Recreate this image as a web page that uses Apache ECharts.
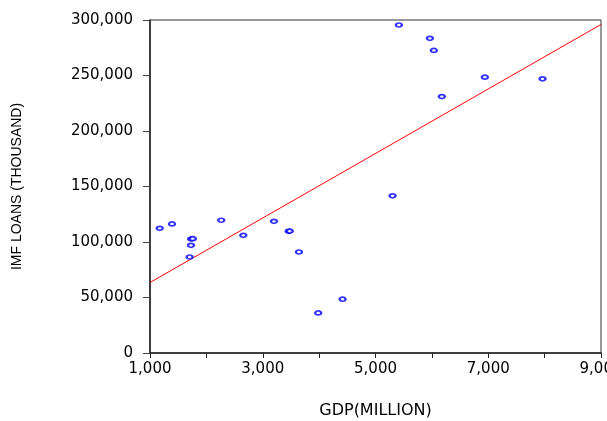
<!DOCTYPE html>
<html>
<head>
<meta charset="utf-8">
<script src="https://cdn.jsdelivr.net/npm/echarts@6/dist/echarts.min.js"></script>
<style>
  html, body { margin: 0; padding: 0; background: #fff; }
  #chart { width: 607px; height: 421px; }
</style>
</head>
<body>
<div id="chart"></div>
<script>
// GDP (million) and IMF loans (thousand)
const gdp = [5415, 5965, 6035, 6940, 7963, 6177, 5303, 1172, 1390, 2264, 1730, 1760, 1727, 1703, 2655, 3199, 3460, 3480, 3642, 3984, 4416];
const loans = [295500, 283500, 272600, 248500, 247000, 231000, 141600, 112300, 116300, 119600, 102700, 103000, 97000, 86500, 106000, 118600, 109600, 109800, 91000, 36100, 48500];

// fitted line end points
const fitX = [1000, 9000];
const fitY = [63500, 296000];

const xTicks = [1000, 3000, 5000, 7000, 9000];

const fmt = (v) => v.toLocaleString('en-US');

const chart = echarts.init(document.getElementById('chart'));
chart.setOption({
  animation: false,
  grid: {
    left: 150, right: 6, top: 20, bottom: 68,
    containLabel: false,
    outerBoundsMode: 'none',
    show: true, borderColor: '#333', borderWidth: 1
  },
  xAxis: {
    type: 'value',
    min: 1000, max: 9000, interval: 1000,
    name: 'GDP(MILLION)',
    nameLocation: 'middle',
    nameGap: 50,
    nameTextStyle: { fontFamily: 'DejaVu Sans', fontSize: 16, color: '#000' },
    axisLine: { show: true, lineStyle: { color: '#222', width: 1.5 } },
    axisTick: { show: true, inside: false, length: 5, lineStyle: { color: '#222' } },
    axisLabel: {
      margin: 9,
      hideOverlap: false,
      fontFamily: 'DejaVu Sans', fontSize: 15, color: '#000',
      formatter: (v) => (xTicks.includes(v) ? fmt(v) : '')
    },
    splitLine: { show: false }
  },
  yAxis: {
    type: 'value',
    min: 0, max: 300000, interval: 50000,
    name: 'IMF LOANS (THOUSAND)',
    nameLocation: 'middle',
    nameGap: 126,
    nameTextStyle: { fontFamily: 'Liberation Sans', fontSize: 14, color: '#000' },
    axisLine: { show: true, lineStyle: { color: '#222', width: 1.5 } },
    axisTick: { show: true, inside: false, length: 7, lineStyle: { color: '#444' } },
    axisLabel: {
      margin: 17,
      fontFamily: 'DejaVu Sans', fontSize: 15, color: '#000',
      formatter: fmt
    },
    splitLine: { show: false }
  },
  series: [
    {
      type: 'line',
      data: fitX.map((x, i) => [x, fitY[i]]),
      showSymbol: false,
      lineStyle: { color: '#ff0000', width: 1 },
      z: 1
    },
    {
      type: 'scatter',
      data: gdp.map((x, i) => [x, loans[i]]),
      symbol: 'emptyCircle',
      symbolSize: [6, 4],
      itemStyle: { color: '#0000ff', borderColor: '#0000ff', borderWidth: 1.3 },
      z: 2
    }
  ]
});
</script>
</body>
</html>
